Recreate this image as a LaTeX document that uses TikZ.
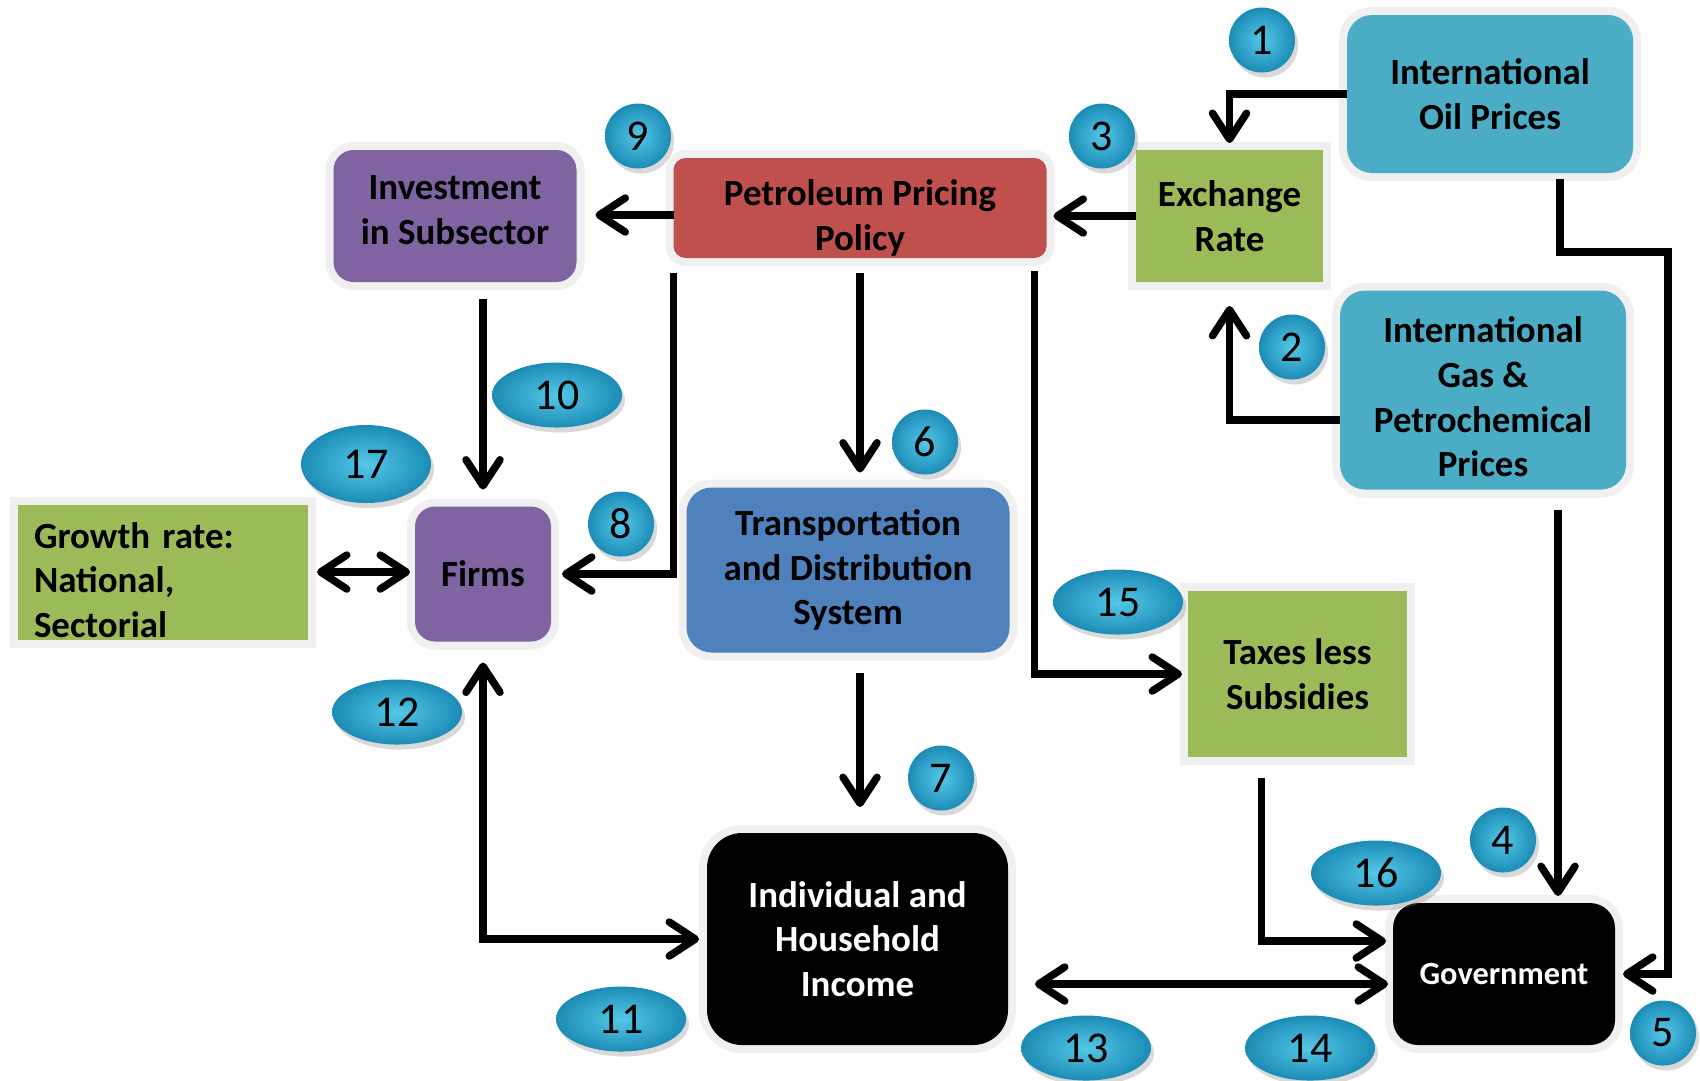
\documentclass[tikz,border=0pt]{standalone}
\usepackage{fontspec}
\setmainfont{Carlito}
\usetikzlibrary{arrows.meta,shapes.geometric,shadows}
\definecolor{cteal}{HTML}{4BACC6}
\definecolor{cgreen}{HTML}{9BBB59}
\definecolor{cred}{HTML}{C0504D}
\definecolor{cpurple}{HTML}{8064A2}
\definecolor{cblue}{HTML}{4F81BD}
\definecolor{cglow}{HTML}{F0F0F0}
\definecolor{badgein}{RGB}{85,200,232}
\definecolor{badgeout}{RGB}{28,140,182}
\begin{document}
\begin{tikzpicture}[x=0.1mm,y=-0.1mm,
box/.style={preaction={draw=cglow,line width=1.6mm},outer sep=0pt,inner sep=0pt,align=center,font=\fontsize{10.5}{12.7}\selectfont\bfseries},
boxtext/.style={inner sep=0pt,align=center,font=\fontsize{10.5}{12.7}\selectfont\bfseries},
badge/.style={ellipse,minimum width=6.6mm,minimum height=6.5mm,inner sep=0pt,inner color=badgein,outer color=badgeout,drop shadow={opacity=0.3,shadow xshift=0.3mm,shadow yshift=-0.5mm},font=\fontsize{12.5}{14}\selectfont},
wide/.style={minimum width=13mm},
arr/.style={line width=0.75mm,-{Straight Barb[round,length=2.6mm,width=3.4mm]}},
arr2/.style={line width=0.75mm,{Straight Barb[round,length=2.6mm,width=3.4mm]}-{Straight Barb[round,length=2.6mm,width=3.4mm]}}]
\useasboundingbox (0,0) rectangle (1700,1080);
\node[box,fill=cteal,minimum width=28.6mm,minimum height=15.8mm,rounded corners=2.5mm] (oil) at (1490,94) {International\\Oil Prices};
\node[box,fill=cgreen,minimum width=18.7mm,minimum height=13.2mm] (exch) at (1229.5,216) {Exchange\\Rate};
\node[box,fill=cred,minimum width=37.3mm,minimum height=10mm,rounded corners=1.2mm,label={[boxtext,yshift=-1mm]center:Petroleum Pricing\\Policy}] (pet) at (860,208) {};
\node[box,fill=cpurple,minimum width=24.3mm,minimum height=13.2mm,rounded corners=2mm,label={[boxtext,yshift=0.6mm]center:Investment\\in Subsector}] (inv) at (455,216) {};
\node[box,fill=cteal,minimum width=28.6mm,minimum height=19.9mm,rounded corners=2.5mm,label={[boxtext,yshift=-0.7mm]center:International\\Gas \&\\Petrochemical\\Prices}] (gas) at (1483,390) {};
\node[box,fill=cblue,minimum width=32.3mm,minimum height=16.5mm,rounded corners=2.5mm] (trans) at (848,570) {Transportation\\and Distribution\\System};
\node[box,fill=cpurple,minimum width=13.6mm,minimum height=13.5mm,rounded corners=2mm] (firms) at (483,574) {Firms};
\node[box,fill=cgreen,minimum width=29mm,minimum height=13.5mm,label={[boxtext,text width=25.8mm,align=left,yshift=-0.8mm]center:Growth rate:\\National,\\Sectorial}] (growth) at (163,572) {};
\node[box,fill=cgreen,minimum width=21.9mm,minimum height=16.6mm] (taxes) at (1297.5,674) {Taxes less\\Subsidies};
\node[box,fill=black,text=white,minimum width=30.1mm,minimum height=21.2mm,rounded corners=3.5mm] (income) at (857.5,939) {Individual and\\Household\\Income};
\node[box,fill=black,text=white,minimum width=22.2mm,minimum height=14.2mm,rounded corners=2.5mm,font=\fontsize{9.2}{11}\selectfont\bfseries] (gov) at (1504,974) {Government};
\node[badge] (b1) at (1262,40) {1};
\node[badge] (b2) at (1292,347) {2};
\node[badge] (b3) at (1102,136) {3};
\node[badge] (b4) at (1503,840) {4};
\node[badge] (b5) at (1663,1033) {5};
\node[badge] (b6) at (925,442) {6};
\node[badge] (b7) at (941,778) {7};
\node[badge] (b8) at (621,524) {8};
\node[badge] (b9) at (638,136) {9};
\node[badge,wide] (b10) at (557,395) {10};
\node[badge,wide] (b11) at (621,1019) {11};
\node[badge,wide] (b12) at (397,712) {12};
\node[badge,wide] (b13) at (1086,1048) {13};
\node[badge,wide] (b14) at (1310,1048) {14};
\node[badge,wide] (b15) at (1118,602) {15};
\node[badge,wide] (b16) at (1376,873) {16};
\node[badge,wide,minimum height=7.8mm] (b17) at (366,464) {17};
\coordinate (k5) at (1668,252);
\draw[arr,shorten >=0.7mm] (oil.west) -| (exch.north);
\draw[arr,shorten >=2.4mm] ([yshift=-3mm]gas.west) -| (exch.south);
\draw[arr,shorten >=0.7mm] (exch.west) -- (exch.west -| pet.east);
\draw[arr,shorten <=2mm,shorten >=0.7mm] ([xshift=7.5mm]gas.south) -- ([xshift=7.5mm]gas.south |- gov.north);
\draw[arr,shorten <=0.6mm,shorten >=0.8mm] ([xshift=7mm]oil.south) |- (k5) |- (gov.east);
\draw[arr,shorten <=1.5mm,shorten >=1.5mm] (pet.south) -- (pet.south |- trans.north);
\draw[arr,shorten <=2mm,shorten >=2.6mm] ([xshift=1.2mm]trans.south) -- ([xshift=1.2mm]trans.south |- income.north);
\draw[arr,shorten <=1.5mm,shorten >=1.1mm] (pet.south west) |- (firms.east);
\draw[arr,shorten >=1.9mm] ([yshift=-0.7mm]pet.west) -- ([yshift=-0.7mm]pet.west -| inv.east);
\draw[arr,shorten <=1.7mm,shorten >=1.7mm] (inv.south -| firms.north) -- (firms.north);
\draw[arr2,shorten <=2.1mm,shorten >=0.8mm] (firms.south) |- (income.west);
\draw[arr2,shorten <=2.7mm,shorten >=0.5mm] ([yshift=-4.5mm]income.east) -- ([yshift=-4.5mm]income.east -| gov.west);
\draw[arr,shorten <=1.3mm,shorten >=0.6mm] ([xshift=-1.2mm]pet.south east) |- (taxes.west);
\draw[arr,shorten <=2.1mm,shorten >=0.7mm] ([xshift=-3.6mm]taxes.south) |- ([yshift=3.3mm]gov.west);
\draw[arr2,shorten <=0.9mm,shorten >=0.5mm] (growth.east) -- (growth.east -| firms.west);
\end{tikzpicture}
\end{document}
